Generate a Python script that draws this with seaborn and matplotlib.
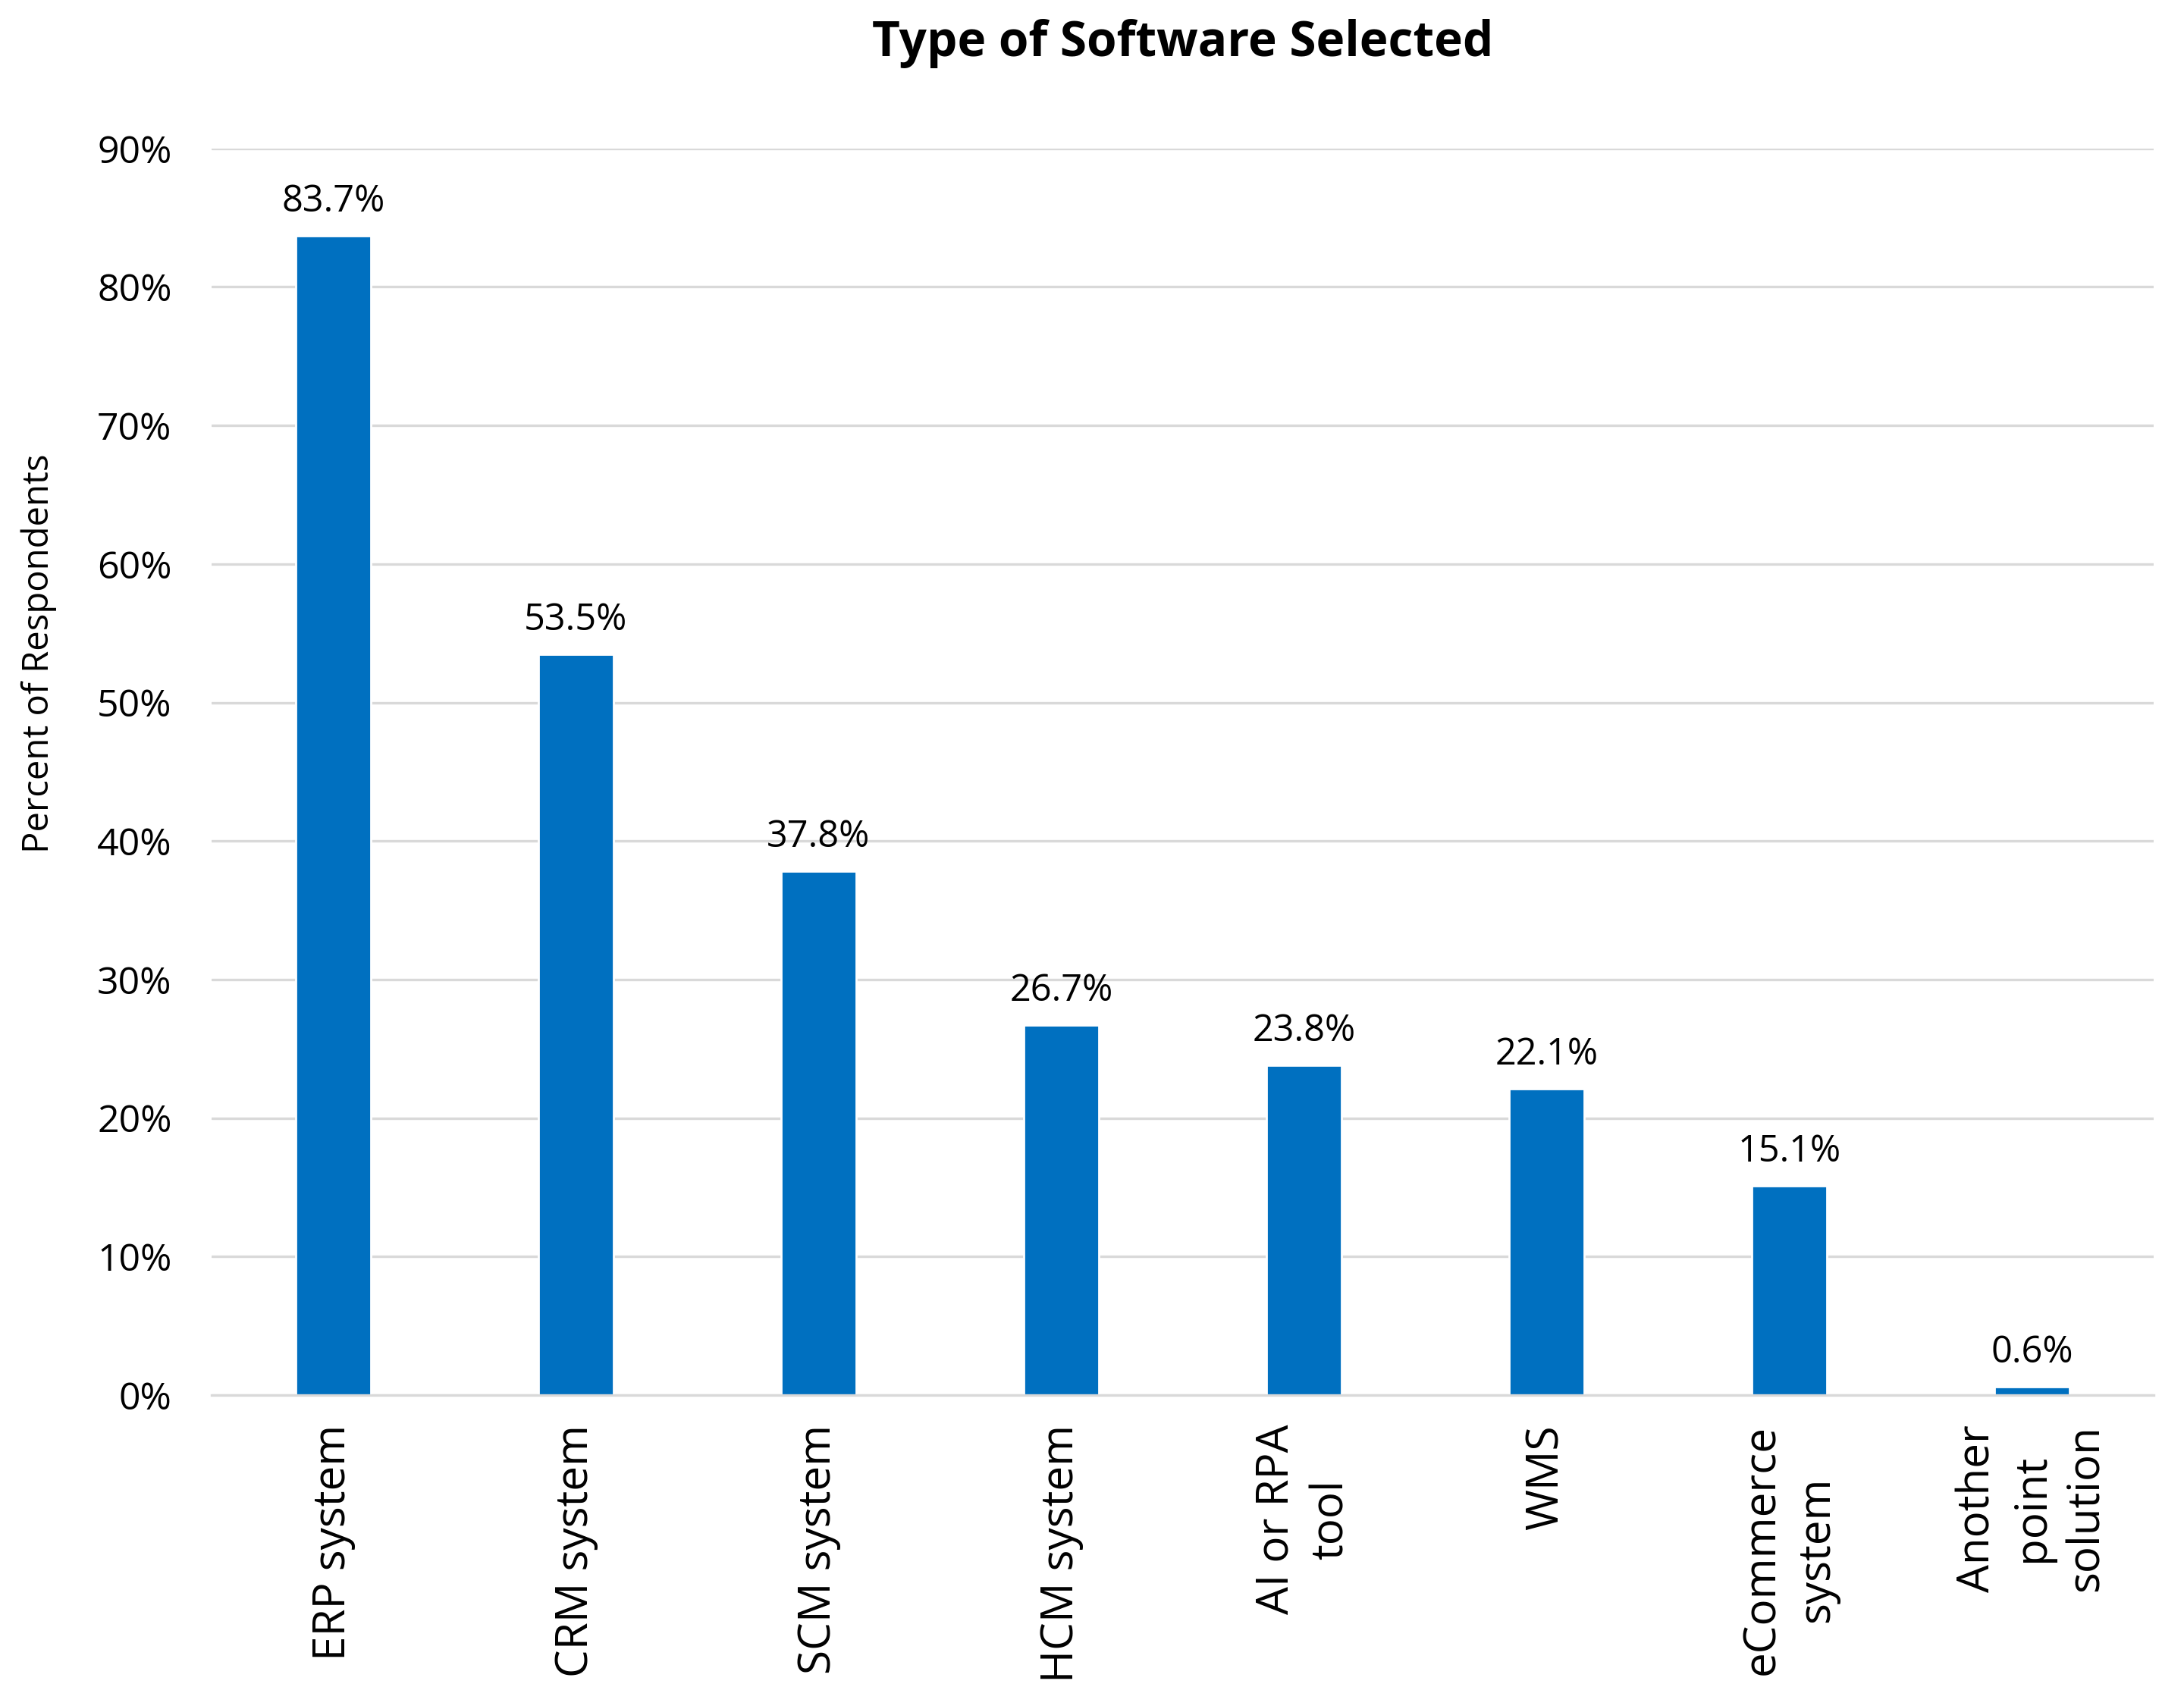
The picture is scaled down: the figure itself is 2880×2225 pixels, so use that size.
import matplotlib
matplotlib.use("Agg")
import matplotlib.pyplot as plt
import seaborn as sns
import pandas as pd

# chart data
categories = ["ERP system", "CRM system", "SCM system", "HCM system",
              "AI or RPA\ntool", "WMS", "eCommerce\nsystem", "Another\npoint\nsolution"]
percents = [83.7, 53.5, 37.8, 26.7, 23.8, 22.1, 15.1, 0.6]
y_ticks = [0, 10, 20, 30, 40, 50, 60, 70, 80, 90]

df = pd.DataFrame({"Software": categories, "Percent": percents})

sns.set_theme(style="white")
plt.rcParams["font.family"] = ["Open Sans", "DejaVu Sans"]
plt.rcParams["text.color"] = "black"
plt.rcParams["xtick.color"] = "black"
plt.rcParams["ytick.color"] = "black"
plt.rcParams["axes.labelcolor"] = "black"

fig, ax = plt.subplots(figsize=(14.4, 11.125), dpi=200)
fig.subplots_adjust(left=0.097, right=0.986, bottom=0.173, top=0.912)

sns.barplot(data=df, x="Software", y="Percent", color="#0070C0",
            width=0.31, saturation=1, ax=ax)

# value labels above bars
for i, v in enumerate(percents):
    ax.text(i, v + 1.1, f"{v:.1f}%", ha="center", va="bottom", fontsize=17.5, color="black")

ax.set_ylim(0, 90)
ax.set_xlim(-0.5, len(categories) - 0.5)
ax.set_yticks(y_ticks)
ax.set_yticklabels([f"{t}%" for t in y_ticks], fontsize=18)
ax.yaxis.grid(True, color="#D9D9D9", linewidth=1.2)
ax.set_axisbelow(True)
ax.tick_params(axis="both", length=0)
ax.tick_params(axis="y", pad=19)
ax.set_xticks(range(len(categories)))
ax.set_xticklabels(categories, rotation=90, fontsize=21, ha="center", va="top",
                   multialignment="center", linespacing=1.3)
ax.tick_params(axis="x", pad=14)

for s in ["top", "right", "left"]:
    ax.spines[s].set_visible(False)
ax.spines["bottom"].set_color("#D9D9D9")
ax.spines["bottom"].set_linewidth(1.2)

ax.set_xlabel("")
ax.set_ylabel("Percent of Respondents", fontsize=17)
ax.yaxis.set_label_coords(-0.080, 0.595)
ax.set_title("Type of Software Selected", fontsize=23, fontweight="bold", pad=44)

fig.savefig("out.png", dpi=200)
print("Saved out.png")
